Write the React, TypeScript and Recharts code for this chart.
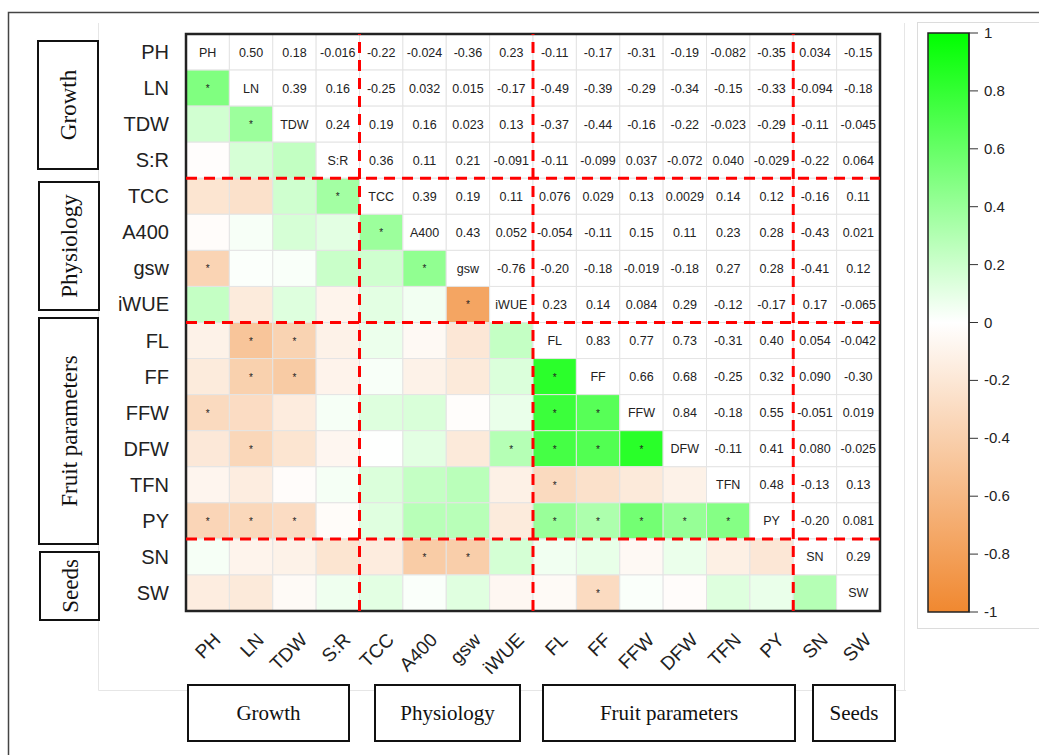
import React from "react";
import {
  ScatterChart,
  Scatter,
  XAxis,
  YAxis,
  ReferenceLine,
  ReferenceArea,
} from "recharts";

// variables, in matrix order
const VARS = ["PH", "LN", "TDW", "S:R", "TCC", "A400", "gsw", "iWUE", "FL", "FF", "FFW", "DFW", "TFN", "PY", "SN", "SW"];

// upper triangle, one row per variable (correlations with the variables after it)
const R_PH = [0.50, 0.18, -0.016, -0.22, -0.024, -0.36, 0.23, -0.11, -0.17, -0.31, -0.19, -0.082, -0.35, 0.034, -0.15];
const R_LN = [0.39, 0.16, -0.25, 0.032, 0.015, -0.17, -0.49, -0.39, -0.29, -0.34, -0.15, -0.33, -0.094, -0.18];
const R_TDW = [0.24, 0.19, 0.16, 0.023, 0.13, -0.37, -0.44, -0.16, -0.22, -0.023, -0.29, -0.11, -0.045];
const R_SR = [0.36, 0.11, 0.21, -0.091, -0.11, -0.099, 0.037, -0.072, 0.040, -0.029, -0.22, 0.064];
const R_TCC = [0.39, 0.19, 0.11, 0.076, 0.029, 0.13, 0.0029, 0.14, 0.12, -0.16, 0.11];
const R_A400 = [0.43, 0.052, -0.054, -0.11, 0.15, 0.11, 0.23, 0.28, -0.43, 0.021];
const R_GSW = [-0.76, -0.20, -0.18, -0.019, -0.18, 0.27, 0.28, -0.41, 0.12];
const R_IWUE = [0.23, 0.14, 0.084, 0.29, -0.12, -0.17, 0.17, -0.065];
const R_FL = [0.83, 0.77, 0.73, -0.31, 0.40, 0.054, -0.042];
const R_FF = [0.66, 0.68, -0.25, 0.32, 0.090, -0.30];
const R_FFW = [0.84, -0.18, 0.55, -0.051, 0.019];
const R_DFW = [-0.11, 0.41, 0.080, -0.025];
const R_TFN = [0.48, -0.13, 0.13];
const R_PY = [-0.20, 0.081];
const R_SN = [0.29];
const UPPER = [R_PH, R_LN, R_TDW, R_SR, R_TCC, R_A400, R_GSW, R_IWUE, R_FL, R_FF, R_FFW, R_DFW, R_TFN, R_PY, R_SN, []];

// significant pairs (row, column) marked with * in the lower triangle
const SIG = [
  ["LN", "PH"], ["TDW", "LN"], ["TCC", "S:R"], ["A400", "TCC"], ["gsw", "PH"], ["gsw", "A400"],
  ["iWUE", "gsw"], ["FL", "LN"], ["FL", "TDW"], ["FF", "LN"], ["FF", "TDW"], ["FF", "FL"],
  ["FFW", "PH"], ["FFW", "FL"], ["FFW", "FF"], ["DFW", "LN"], ["DFW", "iWUE"], ["DFW", "FL"],
  ["DFW", "FF"], ["DFW", "FFW"], ["TFN", "FL"], ["PY", "PH"], ["PY", "LN"], ["PY", "TDW"],
  ["PY", "FL"], ["PY", "FF"], ["PY", "FFW"], ["PY", "DFW"], ["PY", "TFN"], ["SN", "A400"],
  ["SN", "gsw"], ["SW", "FF"],
];

const GROUP_BREAKS = [4, 8, 14];
const GROUP_NAMES = ["Growth", "Physiology", "Fruit parameters", "Seeds"];
const CB_TICKS = [-1, -0.8, -0.6, -0.4, -0.2, 0, 0.2, 0.4, 0.6, 0.8, 1];

const N = VARS.length;
const W = 1039;
const H = 755;
const PLOT_L = 186;
const PLOT_R = 880;
const PLOT_T = 34;
const PLOT_B = 611;
const CW = (PLOT_R - PLOT_L) / N;
const CH = (PLOT_B - PLOT_T) / N;
const SANS = "'Liberation Sans', Arial, sans-serif";
const SERIF = "'Liberation Serif', 'Times New Roman', serif";

const GREEN = [0, 255, 0];
const ORANGE = [240, 136, 48];

function colorFor(r: number) {
  const c = r >= 0 ? GREEN : ORANGE;
  const t = Math.min(1, Math.abs(r));
  const m = c.map((v) => Math.round(255 + (v - 255) * t));
  return `rgb(${m[0]},${m[1]},${m[2]})`;
}

function corr(i: number, j: number) {
  if (i === j) return 1;
  const a = Math.min(i, j);
  const b = Math.max(i, j);
  return UPPER[a][b - a - 1];
}

const sigSet = new Set(SIG.map(([r, c]) => `${r}|${c}`));

const cells: { x: number; y: number; r: number; i: number; j: number }[] = [];
for (let i = 0; i < N; i++) {
  for (let j = 0; j < N; j++) {
    cells.push({ x: j + 0.5, y: i + 0.5, r: corr(i, j), i, j });
  }
}
const centers = VARS.map((_, k) => k + 0.5);

function CellShape(props: any) {
  const { cx, cy, payload } = props;
  const { i, j, r } = payload;
  const x = cx - CW / 2;
  const y = cy - CH / 2;
  let fill = "#ffffff";
  let label: string | null = null;
  if (i > j) fill = colorFor(r);
  if (i === j) label = VARS[i];
  else if (j > i) label = r.toPrecision(2);
  const star = i > j && sigSet.has(`${VARS[i]}|${VARS[j]}`);
  return (
    <g>
      <rect x={x} y={y} width={CW} height={CH} fill={fill} stroke="#e4e4e4" strokeWidth={1} />
      {label && (
        <text x={cx} y={cy + 4.5} textAnchor="middle" fontSize={12.5} fill="#222" fontFamily={SANS}>
          {label}
        </text>
      )}
      {star && (
        <text x={cx} y={cy + 4} textAnchor="middle" fontSize={10} fill="#222" fontFamily={SANS}>
          *
        </text>
      )}
    </g>
  );
}

function RowTick(props: any) {
  const { x, y, payload } = props;
  return (
    <text x={x - 15} y={y + 7} textAnchor="end" fontSize={20} fill="#222" fontFamily={SANS}>
      {VARS[Math.floor(payload.value)]}
    </text>
  );
}

function ColTick(props: any) {
  const { x, y, payload } = props;
  return (
    <text
      transform={`translate(${x + 14},${y + 28}) rotate(-45)`}
      textAnchor="end"
      fontSize={19}
      fill="#222"
      fontFamily={SANS}
    >
      {VARS[Math.floor(payload.value)]}
    </text>
  );
}

function CbTick(props: any) {
  const { x, y, payload } = props;
  return (
    <text x={x + 4} y={y + 5} textAnchor="start" fontSize={15} fill="#222" fontFamily={SANS}>
      {String(payload.value)}
    </text>
  );
}

// decorative group boxes
const LEFT_BOXES = [
  { name: GROUP_NAMES[0], x: 38, y: 41, w: 60, h: 128 },
  { name: GROUP_NAMES[1], x: 39, y: 182, w: 60, h: 128 },
  { name: GROUP_NAMES[2], x: 39, y: 318, w: 59, h: 226 },
  { name: GROUP_NAMES[3], x: 40, y: 552, w: 59, h: 68 },
];
const BOTTOM_BOXES = [
  { name: GROUP_NAMES[0], x: 188, y: 685, w: 161, h: 56 },
  { name: GROUP_NAMES[1], x: 375, y: 685, w: 145, h: 56 },
  { name: GROUP_NAMES[2], x: 543, y: 685, w: 252, h: 56 },
  { name: GROUP_NAMES[3], x: 813, y: 685, w: 82, h: 56 },
];

function Decorations() {
  return (
    <svg width={W} height={H} style={{ position: "absolute", left: 0, top: 0 }}>
      <defs>
        <linearGradient id="cbGrad" x1="0" y1="0" x2="0" y2="1">
          <stop offset="0%" stopColor={colorFor(1)} />
          <stop offset="50%" stopColor="#ffffff" />
          <stop offset="100%" stopColor={colorFor(-1)} />
        </linearGradient>
      </defs>
      <path d={`M8.5,${H} L8.5,12.5 L${W},12.5`} fill="none" stroke="#444" strokeWidth={1.5} />
      <path d="M98.5,23 L98.5,690.5 L906,690.5" fill="none" stroke="#e6e6e6" strokeWidth={1} />
      <line x1={904.5} y1={23} x2={904.5} y2={690} stroke="#e6e6e6" />
      <rect x={917.5} y={22.5} width={130} height={606} fill="none" stroke="#dcdcdc" />
      {LEFT_BOXES.map((b) => (
        <g key={b.name}>
          <rect x={b.x} y={b.y} width={b.w} height={b.h} fill="#fff" stroke="#111" strokeWidth={2} />
          <text
            transform={`translate(${b.x + b.w / 2 + 8},${b.y + b.h / 2}) rotate(-90)`}
            textAnchor="middle"
            fontSize={23}
            fill="#111"
            fontFamily={SERIF}
          >
            {b.name}
          </text>
        </g>
      ))}
      {BOTTOM_BOXES.map((b) => (
        <g key={b.name}>
          <rect x={b.x} y={b.y} width={b.w} height={b.h} fill="#fff" stroke="#111" strokeWidth={2} />
          <text x={b.x + b.w / 2} y={b.y + b.h / 2 + 7} textAnchor="middle" fontSize={21} fill="#111" fontFamily={SERIF}>
            {b.name}
          </text>
        </g>
      ))}
    </svg>
  );
}

export default function App() {
  const plotMargin = { top: PLOT_T, right: W - PLOT_R, bottom: H - PLOT_B, left: PLOT_L };
  return (
    <div style={{ position: "absolute", left: 0, top: 0, width: W, height: H, background: "#fff" }}>
      <Decorations />
      <div style={{ position: "absolute", left: 0, top: 0 }}>
        <ScatterChart width={W} height={H} margin={{ top: PLOT_T, right: W - PLOT_R, bottom: 0, left: 0 }}>
          <XAxis
            type="number"
            dataKey="x"
            domain={[0, N]}
            ticks={centers}
            interval={0}
            height={H - PLOT_B}
            axisLine={false}
            tickLine={false}
            tickSize={0}
            tick={<ColTick />}
          />
          <YAxis
            type="number"
            dataKey="y"
            domain={[0, N]}
            reversed
            ticks={centers}
            interval={0}
            width={PLOT_L}
            axisLine={false}
            tickLine={false}
            tickSize={0}
            tick={<RowTick />}
          />
          <Scatter data={cells} shape={<CellShape />} isAnimationActive={false} />
        </ScatterChart>
      </div>
      {/* overlay: group separators and matrix frame, drawn above the cells */}
      <div style={{ position: "absolute", left: 0, top: 0 }}>
        <ScatterChart width={W} height={H} margin={plotMargin}>
          <XAxis type="number" dataKey="x" domain={[0, N]} hide />
          <YAxis type="number" dataKey="y" domain={[0, N]} reversed hide />
          <Scatter data={[{ x: 0.5, y: 0.5 }]} shape={() => <g />} isAnimationActive={false} />
          {GROUP_BREAKS.map((b) => (
            <ReferenceLine key={`v${b}`} x={b} stroke="#ff0000" strokeWidth={3} strokeDasharray="11 7" />
          ))}
          {GROUP_BREAKS.map((b) => (
            <ReferenceLine key={`h${b}`} y={b} stroke="#ff0000" strokeWidth={3} strokeDasharray="11 7" />
          ))}
          <ReferenceArea x1={0} x2={N} y1={0} y2={N} fill="none" fillOpacity={0} stroke="#222" strokeWidth={2.5} strokeOpacity={1} />
        </ScatterChart>
      </div>
      <div style={{ position: "absolute", left: 900, top: 0 }}>
        <ScatterChart width={139} height={H} margin={{ top: 33, right: 0, bottom: H - 612, left: 28 }}>
          <XAxis type="number" dataKey="x" domain={[0, 1]} hide />
          <YAxis
            type="number"
            dataKey="y"
            orientation="right"
            domain={[-1, 1]}
            ticks={CB_TICKS}
            interval={0}
            width={70}
            axisLine={{ stroke: "#222" }}
            tickLine={{ stroke: "#333" }}
            tickSize={9}
            tick={<CbTick />}
          />
          <Scatter data={[{ x: 0.5, y: 0 }]} shape={() => <g />} isAnimationActive={false} />
          <ReferenceArea x1={0} x2={1} y1={-1} y2={1} fill="url(#cbGrad)" fillOpacity={1} stroke="#222" strokeWidth={1.5} />
        </ScatterChart>
      </div>
    </div>
  );
}
